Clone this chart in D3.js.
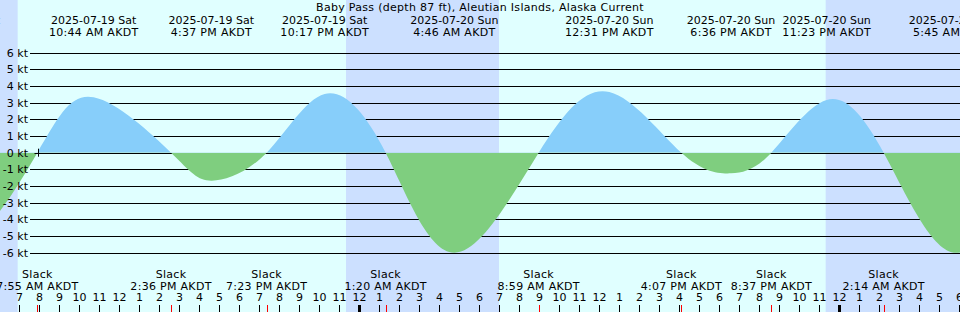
<!DOCTYPE html>
<html>
<head>
<meta charset="utf-8">
<script src="https://cdn.jsdelivr.net/npm/d3@7"></script>
<style>
  body { margin: 0; background: #fff; }
  svg { display: block; font-family: "DejaVu Sans", sans-serif; font-size: 11px; }
  .wide { letter-spacing: 0.3px; }
</style>
</head>
<body>
<div id="chart"></div>
<script>

var svgWidth = 960;
var svgHeight = 312;

var title = "Baby Pass (depth 87 ft), Aleutian Islands, Alaska Current";

// tide current events (AKDT, stored as fake UTC), knots
var eventTimes = [
  "2025-07-19T00:40", "2025-07-19T03:55", "2025-07-19T07:55", "2025-07-19T10:44",
  "2025-07-19T14:36", "2025-07-19T16:37", "2025-07-19T19:23", "2025-07-19T22:17",
  "2025-07-20T01:20", "2025-07-20T04:46", "2025-07-20T08:59", "2025-07-20T12:31",
  "2025-07-20T16:07", "2025-07-20T18:36", "2025-07-20T20:37", "2025-07-20T23:23",
  "2025-07-21T02:14", "2025-07-21T05:45", "2025-07-21T09:10"
];
var eventKnots = [
  0, -5.6, 0, 3.32,
  0, -1.68, 0, 3.52,
  0, -6.0, 0, 3.64,
  0, -1.24, 0, 3.16,
  0, -6.0, 0
];

// night (sunset -> sunrise)
var nightStart = ["2025-07-19T00:00", "2025-07-19T23:21", "2025-07-20T23:20"];
var nightEnd = ["2025-07-19T06:56", "2025-07-20T07:00", "2025-07-21T12:00"];

var yTicks = [6, 5, 4, 3, 2, 1, 0, -1, -2, -3, -4, -5, -6];
var nowTime = "2025-07-19T07:58";

var parse = s => new Date(s + ":00Z");

var events = eventTimes.map((t, i) => ({ time: parse(t), knots: eventKnots[i] }));
var maxEvents = events.filter(d => d.knots !== 0);
var slackEvents = events.filter(d => d.knots === 0);

var svg = d3.select("#chart")
  .append("svg")
  .attr("width", svgWidth)
  .attr("height", svgHeight);

var x = d3.scaleUtc()
  .domain([parse("2025-07-19T06:03"), parse("2025-07-21T06:03")])
  .range([0, svgWidth]);

var y = d3.scaleLinear()
  .domain([-6, 6])
  .range([252.7, 52.7]);

// day / night background
svg.append("rect")
  .attr("width", svgWidth)
  .attr("height", svgHeight)
  .attr("fill", "#e0ffff");

svg.selectAll(".night")
  .data(nightStart)
  .enter()
  .append("rect")
  .attr("class", "night")
  .attr("x", (d, i) => x(parse(d)))
  .attr("y", 0)
  .attr("width", (d, i) => x(parse(nightEnd[i])) - x(parse(d)))
  .attr("height", svgHeight)
  .attr("fill", "#cce0ff");

// grid lines
svg.selectAll(".grid")
  .data(yTicks)
  .enter()
  .append("line")
  .attr("class", "grid")
  .attr("x1", 30)
  .attr("x2", svgWidth)
  .attr("y1", d => Math.round(y(d)) + 0.5)
  .attr("y2", d => Math.round(y(d)) + 0.5)
  .attr("stroke", "#000")
  .attr("stroke-width", 1);

// flood / ebb fills
var zeroY = y(0);
var defs = svg.append("defs");
defs.append("clipPath").attr("id", "clip-flood")
  .append("rect").attr("x", 0).attr("y", 0).attr("width", svgWidth).attr("height", zeroY);
defs.append("clipPath").attr("id", "clip-ebb")
  .append("rect").attr("x", 0).attr("y", zeroY).attr("width", svgWidth).attr("height", svgHeight - zeroY);

var area = d3.area()
  .x(d => x(d.time))
  .y0(zeroY)
  .y1(d => y(d.knots))
  .curve(d3.curveNatural);

svg.append("path")
  .datum(events)
  .attr("d", area)
  .attr("fill", "#87cefa")
  .attr("clip-path", "url(#clip-flood)");

svg.append("path")
  .datum(events)
  .attr("d", area)
  .attr("fill", "#7fce7f")
  .attr("clip-path", "url(#clip-ebb)");

// current time mark
var nx = Math.round(x(parse(nowTime))) + 0.5;
svg.append("line")
  .attr("x1", nx).attr("x2", nx)
  .attr("y1", zeroY - 4).attr("y2", zeroY + 4)
  .attr("stroke", "#000");
svg.append("line")
  .attr("x1", nx - 4).attr("x2", nx + 4)
  .attr("y1", Math.round(zeroY) + 0.5).attr("y2", Math.round(zeroY) + 0.5)
  .attr("stroke", "#000");

// y labels
var leftAxis = d3.axisLeft(y)
  .tickValues(yTicks)
  .tickSize(0)
  .tickPadding(2)
  .tickFormat(d => d + " kt");

svg.append("g")
  .attr("transform", "translate(30,0)")
  .call(leftAxis)
  .call(g => g.select(".domain").remove())
  .selectAll("text")
  .attr("font-family", "DejaVu Sans")
  .attr("font-size", 11)
  .attr("fill", "#000");

// title
svg.append("text")
  .attr("class", "wide")
  .attr("x", svgWidth / 2)
  .attr("y", 11)
  .attr("text-anchor", "middle")
  .text(title);

var fmtDate = d3.utcFormat("%Y-%m-%d %a");
var fmtTime = d3.utcFormat("%-I:%M %p AKDT");

// max flood / ebb labels
var maxLabels = svg.selectAll(".maxLabel")
  .data(maxEvents)
  .enter()
  .append("g")
  .attr("class", "maxLabel")
  .attr("transform", d => `translate(${x(d.time)},0)`);

maxLabels.append("text")
  .attr("y", 24)
  .attr("text-anchor", "middle")
  .text(d => fmtDate(d.time));

maxLabels.append("text")
  .attr("class", "wide")
  .attr("y", 35.5)
  .attr("text-anchor", "middle")
  .text(d => fmtTime(d.time));

// slack labels
var slackLabels = svg.selectAll(".slackLabel")
  .data(slackEvents)
  .enter()
  .append("g")
  .attr("class", "slackLabel")
  .attr("transform", d => `translate(${x(d.time)},0)`);

slackLabels.append("text")
  .attr("class", "wide")
  .attr("y", 278)
  .attr("text-anchor", "middle")
  .text("Slack");

slackLabels.append("text")
  .attr("class", "wide")
  .attr("y", 289.5)
  .attr("text-anchor", "middle")
  .text(d => fmtTime(d.time));

// hour axis
var hourAxis = d3.axisTop(x)
  .ticks(d3.utcHour.every(1))
  .tickSize(7)
  .tickPadding(4)
  .tickFormat(d3.utcFormat("%-I"));

var xAxis = svg.append("g")
  .attr("transform", `translate(0,${svgHeight})`)
  .call(hourAxis);

xAxis.select(".domain").remove();
xAxis.selectAll("text")
  .attr("font-family", "DejaVu Sans")
  .attr("font-size", 11)
  .attr("fill", "#000");
xAxis.selectAll(".tick line")
  .attr("stroke", "#000")
  .attr("stroke-width", d => d.getUTCHours() === 0 ? 3 : 1);

// slack ticks
svg.selectAll(".slackTick")
  .data(slackEvents)
  .enter()
  .append("line")
  .attr("class", "slackTick")
  .attr("x1", d => Math.round(x(d.time)) + 0.5)
  .attr("x2", d => Math.round(x(d.time)) + 0.5)
  .attr("y1", svgHeight - 7)
  .attr("y2", svgHeight)
  .attr("stroke", "red");

</script>
</body>
</html>
